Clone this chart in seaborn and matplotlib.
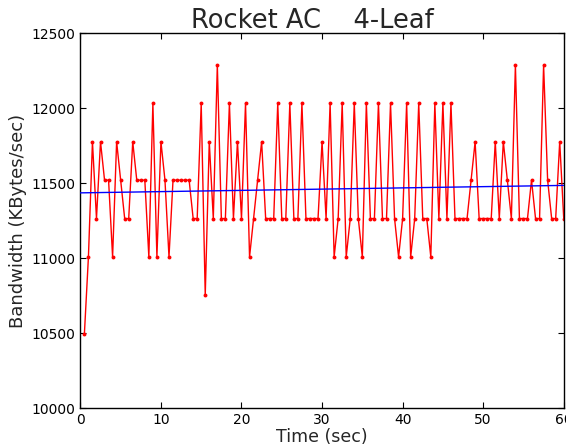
import matplotlib
matplotlib.use("Agg")
import matplotlib.pyplot as plt
import numpy as np
import pandas as pd
import seaborn as sns

# Bandwidth samples, one every 0.5 s (KBytes/sec)
TIME_SEC = [0.5 * k for k in range(1, 121)]
BANDWIDTH = [
    10496, 11008, 11776, 11264, 11776, 11520, 11520, 11008, 11776, 11520,
    11264, 11264, 11776, 11520, 11520, 11520, 11008, 12032, 11008, 11776,
    11520, 11008, 11520, 11520, 11520, 11520, 11520, 11264, 11264, 12032,
    10752, 11776, 11264, 12288, 11264, 11264, 12032, 11264, 11776, 11264,
    12032, 11008, 11264, 11520, 11776, 11264, 11264, 11264, 12032, 11264,
    11264, 12032, 11264, 11264, 12032, 11264, 11264, 11264, 11264, 11776,
    11264, 12032, 11008, 11264, 12032, 11008, 11264, 12032, 11264, 11008,
    12032, 11264, 11264, 12032, 11264, 11264, 12032, 11264, 11008, 11264,
    12032, 11008, 11264, 12032, 11264, 11264, 11008, 12032, 11264, 12032,
    11264, 12032, 11264, 11264, 11264, 11264, 11520, 11776, 11264, 11264,
    11264, 11264, 11776, 11264, 11776, 11520, 11264, 12288, 11264, 11264,
    11264, 11520, 11264, 11264, 12288, 11520, 11264, 11264, 11776, 11264,
]

X_TICKS = [0, 10, 20, 30, 40, 50, 60]
Y_TICKS = [10000, 10500, 11000, 11500, 12000, 12500]


def main() -> None:
    sns.set_style("ticks")
    plt.rcParams["font.family"] = ["DejaVu Sans"]

    df = pd.DataFrame({"time": TIME_SEC, "bw": BANDWIDTH})
    slope, intercept = np.polyfit(df["time"], df["bw"], 1)
    trend = pd.DataFrame({"time": [0.0, 60.0]})
    trend["bw"] = intercept + slope * trend["time"]

    fig = plt.figure(figsize=(5.66, 4.48), dpi=100)
    ax = fig.add_axes([0.142, 0.089, 0.854, 0.837])

    sns.lineplot(data=df, x="time", y="bw", color="red", linewidth=1.0,
                 marker="o", markersize=2.8, markeredgewidth=0,
                 ax=ax, zorder=2)
    sns.lineplot(data=trend, x="time", y="bw", color="blue", linewidth=1.0,
                 ax=ax, zorder=3)

    ax.set_xlim(0, 60)
    ax.set_ylim(10000, 12500)
    ax.set_xticks(X_TICKS)
    ax.set_yticks(Y_TICKS)
    ax.tick_params(direction="in", top=True, right=True, length=4,
                   labelsize=10, colors="black")
    for side in ax.spines.values():
        side.set_color("black")
        side.set_linewidth(1.0)

    ax.set_title("Rocket AC    4-Leaf", fontsize=18.5, pad=4, x=0.48)
    ax.set_xlabel("Time (sec)", fontsize=12.5, labelpad=1)
    ax.set_ylabel("Bandwidth (KBytes/sec)", fontsize=13, labelpad=3)

    fig.savefig("out.png", dpi=100)
    plt.close(fig)


if __name__ == "__main__":
    main()
